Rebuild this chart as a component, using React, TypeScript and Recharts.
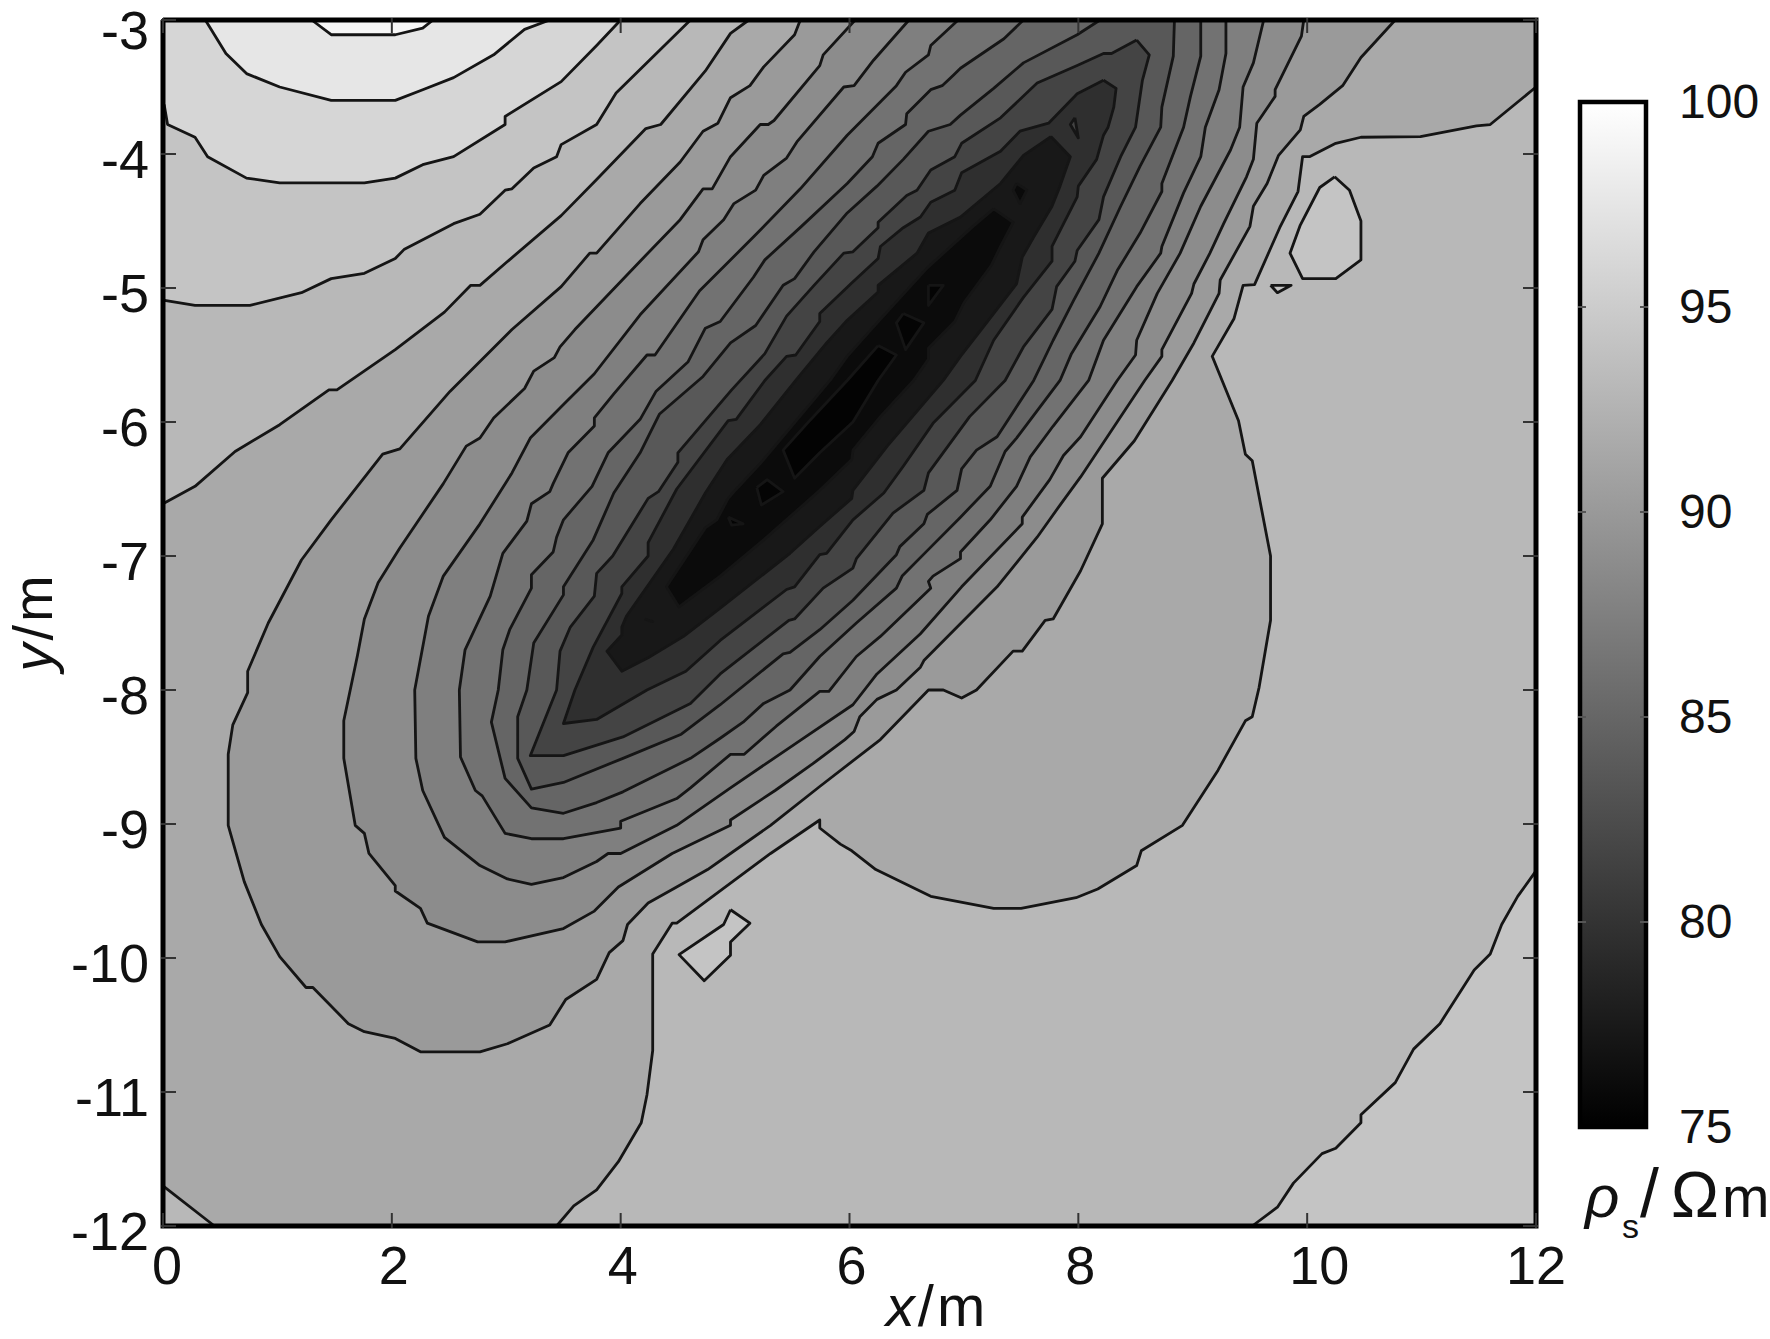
import { Area, ComposedChart, ReferenceArea, Scatter, ScatterChart, XAxis, YAxis } from "recharts";

type Pt = [number, number];

const xTicks = [0, 2, 4, 6, 8, 10, 12];
const yTicks = [-3, -4, -5, -6, -7, -8, -9, -10, -11, -12];
const barTicks = [100, 95, 90, 85, 80, 75];

const plotBox: Pt[] = [[0, -3], [12, -3], [12, -12], [0, -12]];

// contour regions as [x, y] in metres
const topLevel3: Pt[] = [[0.01, -3.63], [0.04, -3.78], [0.28, -3.875], [0.39, -4.02], [0.73, -4.18], [1.02, -4.215], [1.76, -4.215], [2.03, -4.18], [2.27, -4.08], [2.54, -4.02], [2.99, -3.78], [2.99, -3.72], [3.48, -3.46], [3.79, -3.19], [4, -3], [0, -3], [0, -3.63]];
const topLevel2: Pt[] = [[0.37, -3], [0.55, -3.25], [0.73, -3.4], [1.02, -3.5], [1.47, -3.6], [2.03, -3.6], [2.27, -3.52], [2.54, -3.43], [2.89, -3.26], [3.16, -3.07], [3.38, -3]];
const topLevel1: Pt[] = [[1.3, -3], [1.47, -3.11], [2.03, -3.11], [2.27, -3.06], [2.36, -3]];

const level92: Pt[] = [[0, -5.09], [0.28, -5.13], [0.76, -5.13], [1.21, -5.035], [1.47, -4.93], [1.76, -4.89], [2.03, -4.78], [2.11, -4.71], [2.54, -4.52], [2.77, -4.45], [2.99, -4.27], [3.05, -4.26], [3.24, -4.105], [3.44, -4.02], [3.48, -3.93], [3.79, -3.78], [3.96, -3.545], [4.61, -3], [12, -3], [12, -9.35], [11.84, -9.54], [11.7, -9.75], [11.6, -9.97], [11.46, -10.09], [11.16, -10.49], [10.93, -10.68], [10.77, -10.93], [10.47, -11.17], [10.47, -11.23], [10.25, -11.42], [10.13, -11.46], [9.88, -11.68], [9.74, -11.86], [9.52, -12], [0, -12]];
const islandEast: Pt[] = [[10.24, -4.17], [10.37, -4.27], [10.47, -4.5], [10.47, -4.79], [10.25, -4.93], [9.96, -4.93], [9.85, -4.74], [9.94, -4.53], [10.11, -4.25]];
const islandSliver: Pt[] = [[9.68, -4.98], [9.86, -4.98], [9.74, -5.035]];
const islandSouth: Pt[] = [[4.96, -9.64], [5.13, -9.74], [4.96, -9.88], [4.96, -9.98], [4.73, -10.17], [4.51, -9.975], [4.9, -9.75]];

const level90: Pt[] = [[0, -6.61], [0.28, -6.48], [0.63, -6.22], [1.02, -6.02], [1.45, -5.76], [1.52, -5.76], [2.03, -5.46], [2.46, -5.18], [2.69, -4.98], [2.77, -4.98], [3, -4.81], [3.48, -4.46], [3.79, -4.19], [4.22, -3.81], [4.35, -3.78], [4.74, -3.38], [4.96, -3.1], [5.12, -3], [12, -3], [12, -3.5], [11.6, -3.78], [11.48, -3.79], [10.99, -3.87], [10.47, -3.875], [10.25, -3.92], [10.02, -4.02], [9.96, -4.02], [9.92, -4.28], [9.76, -4.55], [9.54, -4.975], [9.44, -4.98], [9.36, -5.23], [9.17, -5.51], [9.4, -5.99], [9.46, -6.24], [9.52, -6.29], [9.68, -7], [9.68, -7.48], [9.58, -7.98], [9.52, -8.2], [9.46, -8.23], [9.22, -8.6], [8.91, -9.01], [8.55, -9.2], [8.51, -9.31], [8.17, -9.485], [7.98, -9.55], [7.5, -9.63], [7.26, -9.63], [6.71, -9.54], [6.23, -9.34], [6.02, -9.2], [5.92, -9.15], [5.74, -9.03], [5.74, -8.97], [5.31, -9.22], [4.49, -9.74], [4.45, -9.74], [4.28, -9.97], [4.28, -10.69], [4.23, -11.02], [4.18, -11.23], [3.98, -11.52], [3.79, -11.73], [3.59, -11.85], [3.44, -12], [0.45, -12], [0, -11.7]];

const level88: Pt[] = [[5.57, -3], [5.52, -3.11], [5.25, -3.35], [5.13, -3.49], [4.96, -3.58], [4.85, -3.77], [4.72, -3.83], [4.52, -4.06], [4.17, -4.37], [3.79, -4.74], [3.73, -4.74], [3.48, -4.99], [3.05, -5.31], [2.51, -5.77], [2.07, -6.2], [1.92, -6.24], [1.47, -6.73], [1.21, -7.03], [0.92, -7.5], [0.74, -7.86], [0.74, -8.02], [0.61, -8.26], [0.57, -8.48], [0.57, -9.01], [0.71, -9.43], [0.86, -9.75], [1.02, -9.99], [1.25, -10.22], [1.31, -10.22], [1.62, -10.49], [1.76, -10.55], [2.03, -10.6], [2.25, -10.7], [2.77, -10.7], [3.01, -10.64], [3.38, -10.5], [3.52, -10.31], [3.79, -10.16], [3.9, -9.96], [4.02, -9.87], [4.06, -9.75], [4.24, -9.59], [4.47, -9.48], [4.76, -9.34], [4.96, -9.22], [5.31, -9.01], [5.74, -8.72], [6.27, -8.37], [6.69, -8], [6.82, -8], [6.98, -8.06], [7.11, -8], [7.43, -7.71], [7.51, -7.71], [7.71, -7.48], [7.78, -7.47], [8.02, -7.11], [8.21, -6.76], [8.21, -6.42], [8.49, -6.14], [8.82, -5.69], [9.01, -5.41], [9.23, -5.04], [9.24, -4.94], [9.5, -4.54], [9.53, -4.39], [9.65, -4.22], [9.75, -4.01], [9.94, -3.82], [9.97, -3.72], [10.11, -3.63], [10.31, -3.49], [10.47, -3.28], [10.77, -3]];

const level86: Pt[] = [[6.05, -3], [5.77, -3.26], [5.74, -3.34], [5.34, -3.75], [5.29, -3.78], [5.22, -3.78], [4.96, -4.02], [4.8, -4.26], [4.72, -4.26], [4.52, -4.49], [4.17, -4.8], [3.6, -5.31], [3.47, -5.44], [3.42, -5.52], [3.24, -5.62], [3.16, -5.75], [2.89, -5.97], [2.77, -6.12], [2.65, -6.18], [2.45, -6.46], [2.07, -6.94], [1.88, -7.2], [1.76, -7.47], [1.7, -7.74], [1.58, -8.23], [1.58, -8.51], [1.68, -9.01], [1.76, -9.07], [1.8, -9.22], [2.03, -9.46], [2.03, -9.5], [2.25, -9.63], [2.31, -9.74], [2.75, -9.88], [2.99, -9.88], [3.5, -9.78], [3.77, -9.65], [3.98, -9.47], [4.45, -9.22], [4.96, -9.01], [4.96, -8.97], [5.35, -8.75], [5.68, -8.55], [5.96, -8.37], [6.04, -8.31], [6.09, -8.2], [6.24, -8.07], [6.41, -8], [6.62, -7.83], [6.65, -7.78], [7.29, -7.23], [7.64, -6.86], [7.84, -6.62], [8.02, -6.41], [8.58, -5.69], [8.73, -5.51], [8.73, -5.46], [8.99, -5.04], [9.01, -4.97], [9.15, -4.74], [9.27, -4.52], [9.47, -4.17], [9.53, -4.04], [9.56, -3.77], [9.72, -3.57], [9.72, -3.52], [9.95, -3.12], [9.97, -3]];

const level84: Pt[] = [[6.52, -3], [6.21, -3.3], [6.04, -3.49], [5.95, -3.5], [5.54, -3.91], [5.45, -4.03], [5.25, -4.16], [5.18, -4.27], [4.99, -4.37], [4.9, -4.49], [4.72, -4.64], [4.68, -4.73], [4.17, -5.2], [3.77, -5.64], [3.5, -5.87], [3.21, -6.12], [3.05, -6.38], [2.77, -6.76], [2.45, -7.15], [2.32, -7.45], [2.2, -8], [2.21, -8.51], [2.27, -8.75], [2.46, -9.1], [2.77, -9.31], [3.01, -9.41], [3.22, -9.45], [3.5, -9.4], [3.79, -9.28], [3.89, -9.22], [4, -9.22], [4.49, -9.01], [4.96, -8.73], [5.58, -8.37], [6.03, -8.11], [6.24, -7.88], [6.62, -7.58], [6.98, -7.23], [7.51, -6.76], [7.51, -6.71], [7.75, -6.43], [7.87, -6.25], [8.02, -6.11], [8.34, -5.69], [8.5, -5.5], [8.51, -5.39], [8.69, -5.04], [8.89, -4.74], [9.07, -4.39], [9.33, -3.97], [9.41, -3.8], [9.44, -3.5], [9.53, -3.32], [9.62, -3]];

const level82: Pt[] = [[6.95, -3], [6.71, -3.19], [6.69, -3.26], [6.49, -3.39], [6.41, -3.49], [5.98, -3.86], [5.57, -4.26], [5.16, -4.62], [4.69, -5.02], [4.3, -5.5], [4.23, -5.5], [3.94, -5.79], [3.77, -5.97], [3.77, -6.03], [3.54, -6.23], [3.41, -6.46], [3.38, -6.52], [3.22, -6.61], [3.18, -6.74], [2.97, -6.98], [2.86, -7.3], [2.64, -7.7], [2.59, -8], [2.6, -8.5], [2.73, -8.75], [2.79, -8.79], [2.99, -9.07], [3.22, -9.11], [3.5, -9.11], [4, -9.03], [4, -8.98], [4.49, -8.81], [4.61, -8.73], [4.96, -8.48], [5.08, -8.48], [5.36, -8.27], [5.74, -8.01], [5.82, -8.01], [6.06, -7.75], [6.27, -7.6], [6.71, -7.24], [6.69, -7.19], [6.73, -7.15], [6.97, -7.02], [6.97, -6.97], [7.23, -6.73], [7.46, -6.48], [7.58, -6.26], [7.78, -6.03], [8.09, -5.69], [8.22, -5.39], [8.51, -4.99], [8.72, -4.74], [8.73, -4.69], [8.92, -4.29], [9.07, -4.02], [9.11, -3.8], [9.23, -3.52], [9.29, -3.25], [9.29, -3]];

const level80: Pt[] = [[7.52, -3], [7.35, -3.14], [6.97, -3.36], [6.91, -3.41], [6.81, -3.49], [6.71, -3.52], [6.5, -3.7], [6.49, -3.78], [6.25, -3.92], [6.2, -4.02], [5.98, -4.22], [5.58, -4.54], [5.26, -4.79], [5.16, -4.92], [4.87, -5.25], [4.74, -5.3], [4.59, -5.55], [4.31, -5.77], [4.17, -5.98], [3.89, -6.23], [3.75, -6.48], [3.5, -6.73], [3.44, -6.86], [3.41, -6.97], [3.22, -7.14], [3.22, -7.24], [3.03, -7.55], [2.97, -7.7], [2.93, -8], [2.87, -8.24], [2.99, -8.66], [3.22, -8.88], [3.5, -8.92], [3.79, -8.84], [4.02, -8.76], [4.61, -8.51], [4.87, -8.36], [5.07, -8.24], [5.25, -8.1], [5.48, -8], [5.74, -7.75], [6.06, -7.5], [6.41, -7.24], [6.46, -7.15], [6.68, -6.96], [6.97, -6.71], [7.23, -6.48], [7.36, -6.22], [7.46, -6.12], [7.84, -5.69], [7.94, -5.49], [8.19, -5.14], [8.34, -4.87], [8.54, -4.59], [8.73, -4.28], [8.73, -4.22], [8.92, -3.8], [8.98, -3.57], [9.07, -3.27], [9.07, -3]];

const level79: Pt[] = [[8.19, -3], [7.99, -3.11], [7.52, -3.32], [7.26, -3.51], [6.97, -3.71], [6.88, -3.78], [6.69, -3.83], [6.47, -4.04], [6.24, -4.24], [5.98, -4.44], [5.69, -4.73], [5.52, -4.93], [5.42, -4.98], [5.18, -5.28], [4.96, -5.41], [4.72, -5.66], [4.34, -5.94], [4.17, -6.23], [3.94, -6.53], [3.76, -6.88], [3.5, -7.23], [3.5, -7.29], [3.24, -7.65], [3.18, -8], [3.1, -8.2], [3.1, -8.51], [3.22, -8.74], [3.5, -8.69], [4.02, -8.51], [4.53, -8.33], [4.87, -8.11], [5.42, -7.73], [5.48, -7.72], [5.74, -7.55], [6.03, -7.33], [6.41, -6.99], [6.44, -6.93], [6.65, -6.76], [6.68, -6.69], [6.94, -6.51], [6.98, -6.35], [7.11, -6.21], [7.29, -6.11], [7.61, -5.69], [7.78, -5.39], [7.96, -5.09], [8.18, -4.74], [8.37, -4.39], [8.54, -4.09], [8.72, -3.8], [8.73, -3.65], [8.83, -3.27], [8.84, -3]];

const level78: Pt[] = [[8.51, -3.15], [8.62, -3.26], [8.56, -3.45], [8.5, -3.8], [8.37, -4.02], [8.22, -4.32], [8.18, -4.49], [7.99, -4.72], [7.97, -4.8], [7.81, -4.99], [7.77, -5.16], [7.52, -5.44], [7.36, -5.69], [7.05, -5.96], [6.69, -6.38], [6.65, -6.51], [6.38, -6.68], [6.06, -7.02], [6.03, -7.09], [5.77, -7.24], [5.52, -7.47], [5.47, -7.48], [4.87, -7.88], [4.61, -8.1], [4.02, -8.35], [3.5, -8.49], [3.21, -8.49], [3.44, -8], [3.47, -7.71], [3.56, -7.53], [3.77, -7.3], [3.79, -7.13], [3.93, -7], [4.24, -6.57], [4.33, -6.52], [4.5, -6.3], [4.5, -6.23], [4.97, -5.76], [5.26, -5.49], [5.45, -5.21], [5.69, -4.98], [5.95, -4.74], [6.03, -4.73], [6.25, -4.55], [6.25, -4.51], [6.5, -4.31], [6.59, -4.27], [6.71, -4.12], [6.92, -4.02], [6.98, -3.92], [7.32, -3.73], [7.64, -3.47], [7.99, -3.34], [8.22, -3.25], [8.29, -3.25]];

const level77: Pt[] = [[8.22, -3.45], [8.33, -3.51], [8.31, -3.65], [8.26, -3.8], [8.22, -3.86], [8.16, -4.04], [8, -4.24], [7.99, -4.32], [7.77, -4.69], [7.77, -4.8], [7.52, -5.07], [7.26, -5.39], [7.1, -5.69], [6.73, -6.01], [6.47, -6.33], [6.3, -6.53], [6.03, -6.73], [5.8, -6.98], [5.74, -6.99], [5.52, -7.23], [5.45, -7.25], [4.87, -7.63], [4.57, -7.86], [4.23, -8], [3.79, -8.22], [3.5, -8.25], [3.6, -8], [3.76, -7.68], [4.01, -7.28], [4.01, -7.23], [4.24, -7], [4.24, -6.9], [4.49, -6.5], [4.94, -5.99], [5.01, -5.98], [5.26, -5.69], [5.45, -5.51], [5.53, -5.5], [5.74, -5.25], [5.74, -5.19], [6.01, -4.97], [6.25, -4.78], [6.27, -4.69], [6.47, -4.55], [6.62, -4.47], [6.71, -4.36], [6.92, -4.27], [6.98, -4.14], [7.32, -3.98], [7.49, -3.83], [7.74, -3.77], [7.99, -3.55]];

const level76: Pt[] = [[7.76, -3.87], [7.93, -4.02], [7.84, -4.24], [7.77, -4.39], [7.61, -4.62], [7.51, -4.77], [7.46, -4.97], [7.17, -5.29], [6.97, -5.51], [6.82, -5.69], [6.33, -6.18], [6.03, -6.51], [6.02, -6.57], [5.74, -6.78], [5.48, -6.98], [4.87, -7.39], [4.55, -7.6], [4.24, -7.76], [4.01, -7.86], [3.88, -7.71], [4.01, -7.59], [4.01, -7.53], [4.05, -7.45], [4.46, -6.95], [4.74, -6.53], [4.93, -6.28], [5.22, -6.02], [5.53, -5.69], [5.8, -5.41], [5.98, -5.24], [6.25, -5.03], [6.25, -4.98], [6.59, -4.74], [6.69, -4.59], [6.97, -4.47], [7.32, -4.22], [7.52, -4.01]];

const level755: Pt[] = [[7.26, -4.41], [7.43, -4.51], [7.32, -4.69], [7.24, -4.83], [7, -5.11], [6.92, -5.25], [6.69, -5.45], [6.69, -5.53], [6.56, -5.69], [6.27, -5.96], [6.03, -6.21], [6.02, -6.28], [5.74, -6.51], [5.25, -6.88], [4.87, -7.15], [4.51, -7.38], [4.4, -7.23], [4.74, -6.79], [4.84, -6.73], [4.94, -6.57], [4.98, -6.53], [5.22, -6.31], [5.83, -5.69], [5.98, -5.51], [6.21, -5.29], [6.68, -4.85], [7.08, -4.54]];

const level75: Pt[] = [[6.25, -5.43], [6.41, -5.5], [6.25, -5.69], [6.03, -6], [5.74, -6.23], [5.52, -6.42], [5.42, -6.21], [5.63, -6.01], [5.98, -5.69]];

const pocketA: Pt[] = [[6.69, -4.98], [6.82, -4.98], [6.69, -5.13]];
const pocketB: Pt[] = [[6.47, -5.19], [6.65, -5.26], [6.49, -5.46], [6.41, -5.26]];
const pocketC: Pt[] = [[7.46, -4.22], [7.55, -4.27], [7.49, -4.37], [7.43, -4.27]];
const pocketD: Pt[] = [[7.97, -3.73], [8, -3.88], [7.93, -3.78]];
const pocketE: Pt[] = [[5.19, -6.49], [5.28, -6.43], [5.42, -6.52], [5.23, -6.62]];
const pocketF: Pt[] = [[4.94, -6.71], [5.07, -6.76], [4.97, -6.77]];
const pocketG: Pt[] = [[4.21, -7.47], [4.28, -7.49], [4.24, -7.48]];

// painted light to dark, each band over the one before
const bands: [Pt[], string][] = [
  [plotBox, "#c4c4c4"],
  [topLevel3, "#d6d6d6"],
  [topLevel2, "#e6e6e6"],
  [topLevel1, "#f7f7f7"],
  [level92, "#b8b8b8"],
  [islandEast, "#c4c4c4"],
  [islandSliver, "#c4c4c4"],
  [islandSouth, "#c4c4c4"],
  [level90, "#a9a9a9"],
  [level88, "#9a9a9a"],
  [level86, "#8c8c8c"],
  [level84, "#7f7f7f"],
  [level82, "#727272"],
  [level80, "#656565"],
  [level79, "#585858"],
  [level78, "#444444"],
  [level77, "#2f2f2f"],
  [pocketD, "#444444"],
  [level76, "#181818"],
  [pocketC, "#0a0a0a"],
  [level755, "#0b0b0b"],
  [pocketF, "#040404"],
  [pocketE, "#040404"],
  [pocketB, "#040404"],
  [pocketA, "#040404"],
  [level75, "#030303"],
  [pocketG, "#040404"],
];

const barRows = [
  { pos: 0, rho: 100 },
  { pos: 1, rho: 100 },
];

const toRows = (pts: Pt[]) => [...pts, pts[0]].map(([x, y]) => ({ x, y }));
const noDot = () => null;
const sans = "'Liberation Sans', Arial, sans-serif";
const tickFont = 54;
const tickStroke = "#333";

function BottomTick({ x, y, payload }: any) {
  const shift = payload.value === 10 ? 12 : payload.value === 0 ? 4 : payload.value === 12 ? 0 : 2;
  return (
    <g>
      <line x1={x} x2={x} y1={y} y2={y - 15} stroke={tickStroke} strokeWidth={2} />
      <text x={x + shift} y={y + 56} textAnchor="middle" fontFamily={sans} fontSize={tickFont} fill="#111">
        {payload.value}
      </text>
    </g>
  );
}

function TopTick({ x, y }: any) {
  return <line x1={x} x2={x} y1={y} y2={y + 15} stroke={tickStroke} strokeWidth={2} />;
}

function LeftTick({ x, y, payload }: any) {
  const drop = payload.value === -3 ? 29 : 24; // top label sits just inside the page
  return (
    <g>
      <line x1={x} x2={x + 15} y1={y} y2={y} stroke={tickStroke} strokeWidth={2} />
      <text x={x - 12} y={y + drop} textAnchor="end" fontFamily={sans} fontSize={tickFont} fill="#111">
        {payload.value}
      </text>
    </g>
  );
}

function RightTick({ x, y }: any) {
  return <line x1={x} x2={x - 15} y1={y} y2={y} stroke={tickStroke} strokeWidth={2} />;
}

function BarLeftTick({ x, y, payload }: any) {
  if (payload.value === 100 || payload.value === 75) return <g />;
  return <line x1={x} x2={x + 8} y1={y} y2={y} stroke="#555" strokeWidth={2} />;
}

function BarRightTick({ x, y, payload }: any) {
  const inner = payload.value === 100 || payload.value === 75;
  return (
    <g>
      {!inner && <line x1={x} x2={x - 8} y1={y} y2={y} stroke="#555" strokeWidth={2} />}
      <text x={x + 31} y={y + 16} fontFamily={sans} fontSize={48} fill="#111">
        {payload.value}
      </text>
    </g>
  );
}

export default function App() {
  return (
    <div style={{ position: "absolute", left: 0, top: 0, width: 1770, height: 1339, overflow: "hidden", background: "#fff" }}>
      <div style={{ position: "absolute", left: 0, top: 0 }}>
        <ScatterChart width={1770} height={1339} margin={{ top: 19, right: 233, bottom: 0, left: 0 }}>
          {bands.map(([pts, fill], i) => (
            <Scatter
              key={i}
              data={toRows(pts)}
              shape={noDot}
              line={{ fill, stroke: "#151515", strokeWidth: 2.8, strokeLinejoin: "round" }}
              isAnimationActive={false}
            />
          ))}
          {/* frame sits on the top and right axes so those axes get drawn */}
          <Scatter xAxisId="top" yAxisId="right" data={toRows(plotBox)} shape={noDot} line={{ fill: "none", stroke: "#000", strokeWidth: 5 }} isAnimationActive={false} />
          <XAxis type="number" dataKey="x" domain={[0, 12]} ticks={xTicks} interval={0} height={113} tick={BottomTick} tickLine={false} axisLine={false} tickSize={0} />
          <XAxis xAxisId="top" orientation="top" type="number" dataKey="x" domain={[0, 12]} ticks={xTicks} interval={0} height={1} tick={TopTick} tickLine={false} axisLine={false} tickSize={0} />
          <YAxis type="number" dataKey="y" domain={[-12, -3]} ticks={yTicks} interval={0} width={163} tick={LeftTick} tickLine={false} axisLine={false} tickSize={0} />
          <YAxis yAxisId="right" orientation="right" type="number" dataKey="y" domain={[-12, -3]} ticks={yTicks} interval={0} width={1} tick={RightTick} tickLine={false} axisLine={false} tickSize={0} />
          <text x={937} y={1326} textAnchor="middle" fontFamily={sans} fontSize={58} letterSpacing={3} fill="#111">
            <tspan fontStyle="italic">x</tspan>/m
          </text>
          <text transform="translate(52 622) rotate(-90)" textAnchor="middle" fontFamily={sans} fontSize={56} letterSpacing={3} fill="#111">
            <tspan fontStyle="italic">y</tspan>/m
          </text>
          <text fontFamily={sans} fontSize={60} fill="#111" y={1217}>
            <tspan x={1585} fontStyle="italic">ρ</tspan>
            <tspan x={1622} y={1238} fontSize={34}>s</tspan>
            <tspan x={1640} y={1217} fontSize={68}>/</tspan>
            <tspan x={1671} fontSize={64}>Ω</tspan>
            <tspan x={1722} fontSize={57}>m</tspan>
          </text>
        </ScatterChart>
      </div>
      <div style={{ position: "absolute", left: 1540, top: 0 }}>
        <ComposedChart width={230} height={1339} data={barRows} margin={{ top: 102, right: 123, bottom: 212, left: 39 }}>
          <defs>
            <linearGradient id="rhoRamp" x1="0" x2="0" y1="0" y2="1">
              <stop offset="0%" stopColor="#ffffff" />
              <stop offset="100%" stopColor="#000000" />
            </linearGradient>
          </defs>
          <Area dataKey="rho" baseValue={75} fill="url(#rhoRamp)" fillOpacity={1} stroke="none" isAnimationActive={false} />
          <Area yAxisId="l" dataKey="rho" baseValue={75} fill="none" stroke="none" isAnimationActive={false} />
          <ReferenceArea x1={0} x2={1} y1={75} y2={100} fill="none" stroke="#000" strokeWidth={4.5} />
          <XAxis type="number" dataKey="pos" domain={[0, 1]} hide />
          <YAxis yAxisId="l" type="number" domain={[75, 100]} ticks={barTicks} interval={0} width={1} tick={BarLeftTick} tickLine={false} axisLine={false} tickSize={0} />
          <YAxis orientation="right" type="number" domain={[75, 100]} ticks={barTicks} interval={0} width={1} tick={BarRightTick} tickLine={false} axisLine={false} tickSize={0} />
        </ComposedChart>
      </div>
    </div>
  );
}
